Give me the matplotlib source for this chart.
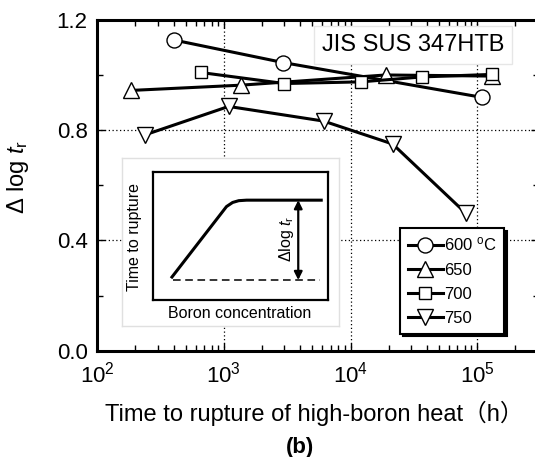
import numpy as np
import matplotlib
matplotlib.use("Agg")
import matplotlib.pyplot as plt
from matplotlib.ticker import LogLocator, NullFormatter, FixedLocator

plt.rcParams["font.family"] = ["Liberation Sans", "Noto Sans CJK JP"]
plt.rcParams["mathtext.fontset"] = "custom"
plt.rcParams["mathtext.rm"] = "Liberation Sans"
plt.rcParams["mathtext.it"] = "Liberation Sans:italic"
plt.rcParams["mathtext.bf"] = "Liberation Sans:bold"

# rupture time of high-boron heat (h) and delta log tr, per test temperature
t600 = [400, 2940, 1.09e5]
d600 = [1.126, 1.044, 0.918]
t650 = [184, 1355, 1.9e4, 1.3e5]
d650 = [0.943, 0.962, 0.999, 0.995]
t700 = [656, 3000, 1.2e4, 3.7e4, 1.3e5]
d700 = [1.008, 0.968, 0.974, 0.992, 1.001]
t750 = [238, 1090, 6120, 2.15e4, 8.15e4]
d750 = [0.782, 0.885, 0.832, 0.749, 0.498]
labels = ["600 $^{\\rm o}$C", "650", "700", "750"]

# schematic inset (fractions of the inset frame)
curve_x = [0.103, 0.42, 0.455, 0.49, 0.535, 0.97]
curve_y = [0.17, 0.73, 0.762, 0.776, 0.78, 0.78]
base_x = [0.116, 0.954]
base_y = [0.156, 0.156]

W, H = 535, 457
fig = plt.figure(figsize=(W / 100, H / 100), dpi=100)

def fx(px):
    return px / W

def fy(py):
    return 1 - py / H

left, right, top, bottom = 97.3, 539, 19.5, 350.7
ax = fig.add_axes([fx(left), fy(bottom), fx(right - left), (bottom - top) / H])
ax.set_xscale("log")
ax.set_xlim(1e2, 10 ** (2 + (right - left) / 126.6))
ax.set_ylim(0, 1.2)

series = [(t600, d600, "o", 10.8), (t650, d650, "^", 12), (t700, d700, "s", 8.2), (t750, d750, "v", 12)]
for (t, d, m, ms), lab in zip(series, labels):
    ax.plot(t, d, color="black", lw=2.2, marker=m, ms=ms, mfc="white", mec="black", mew=1.0, label=lab)

for xv in [1e3, 1e4, 1e5]:
    ax.axvline(xv, color="black", lw=0.9, ls=(0, (1, 2)), zorder=0)
for yv in [0.4, 0.8]:
    ax.axhline(yv, color="black", lw=0.9, ls=(0, (1, 2)), zorder=0)

ax.yaxis.set_major_locator(FixedLocator([0.0, 0.4, 0.8, 1.2]))
ax.yaxis.set_minor_locator(FixedLocator([0.2, 0.6, 1.0]))
ax.set_yticklabels(["0.0", "0.4", "0.8", "1.2"])
ax.xaxis.set_major_locator(LogLocator(base=10, numticks=10))
ax.xaxis.set_minor_locator(LogLocator(base=10, subs=np.arange(2, 10), numticks=20))
ax.xaxis.set_minor_formatter(NullFormatter())
ax.tick_params(which="both", direction="in", top=True, right=True, width=1.0, labelsize=16)
ax.tick_params(which="major", length=6)
ax.tick_params(which="minor", length=4)
ax.tick_params(axis="y", pad=7)
ax.tick_params(axis="x", pad=8)
for s in ax.spines.values():
    s.set_linewidth(2.2)

ax.set_ylabel("$\\Delta$ log $t_{\\rm r}$", fontsize=17)
ax.yaxis.set_label_coords(-0.15, 0.524)

ax.legend(loc="upper left", bbox_to_anchor=(fx(400), fy(228)), bbox_transform=fig.transFigure,
          borderaxespad=0, fontsize=12, handlelength=2.1, handletextpad=0.1, labelspacing=0.55,
          borderpad=0.45, fancybox=False, framealpha=1, edgecolor="black",
          shadow={"color": "black", "alpha": 1})
ax.get_legend().get_frame().set_linewidth(1.5)

fig.text(fx(413), fy(45), "JIS SUS 347HTB", fontsize=17, ha="center", va="center",
         bbox=dict(boxstyle="square,pad=0.35", fc="white", ec="#e6e6e6", lw=1))

fig.text(fx(314), fy(413), "Time to rupture of high-boron heat（h）", fontsize=17, ha="center", va="center")
fig.text(fx(300), fy(447), "(b)", fontsize=16, fontweight="bold", ha="center", va="center")

# inset
outer = fig.add_axes([fx(122), fy(326), fx(217), 168 / H])
outer.set_xticks([])
outer.set_yticks([])
for s in outer.spines.values():
    s.set_color("#e0e0e0")
    s.set_linewidth(1)
outer.set_xlim(122, 339)
outer.set_ylim(326, 158)
outer.text(135, 237, "Time to rupture", rotation=90, fontsize=11.5, ha="center", va="center")
outer.text(240, 313, "Boron concentration", fontsize=11.5, ha="center", va="center")

inner = fig.add_axes([fx(153), fy(300), fx(175), 128 / H])
inner.set_xlim(0, 1)
inner.set_ylim(0, 1)
inner.set_xticks([])
inner.set_yticks([])
for s in inner.spines.values():
    s.set_linewidth(1.6)
inner.plot(curve_x, curve_y, color="black", lw=2.2, solid_capstyle="butt")
inner.plot(base_x, base_y, color="black", lw=1.1, ls=(0, (5, 3)))
inner.annotate("", xy=(0.83, 0.156), xytext=(0.83, 0.78),
               arrowprops=dict(arrowstyle="<|-|>", color="black", lw=1.6, mutation_scale=12,
                               shrinkA=0, shrinkB=0))
inner.text(0.76, 0.48, "$\\Delta$log $t_{\\rm r}$", rotation=90, fontsize=11.5, ha="center", va="center")

fig.savefig("out.png", dpi=100)
